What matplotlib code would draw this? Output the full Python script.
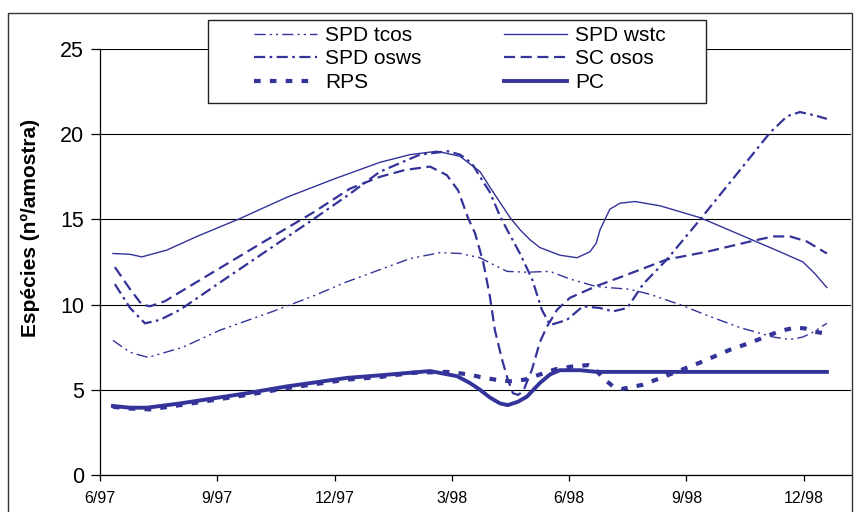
import matplotlib
matplotlib.use("Agg")
import matplotlib.pyplot as plt
from matplotlib.patches import Rectangle

plt.rcParams['font.family'] = ['Liberation Sans', 'DejaVu Sans']

# months counted from 6/97
tick_pos = [0, 3, 6, 9, 12, 15, 18]
tick_labels = ['6/97', '9/97', '12/97', '3/98', '6/98', '9/98', '12/98']

tcos_x = [0.33, 0.77, 1.23, 2.12, 3.07, 4.42, 5.45, 6.27, 7.16, 7.93, 8.70, 9.21, 9.72, 10.10,
          10.41, 10.92, 11.51, 12.02, 12.71, 13.55, 14.07, 14.83, 15.60, 16.37, 17.21, 17.65,
          17.98, 18.21, 18.59]
tcos_y = [7.9, 7.2, 6.9, 7.5, 8.5, 9.6, 10.5, 11.3, 12.05, 12.7, 13.05, 13.0, 12.75, 12.3,
          11.95, 11.9, 11.95, 11.5, 11.05, 10.9, 10.6, 10.0, 9.3, 8.65, 8.1, 7.95,
          8.1, 8.35, 8.9]

wstc_x = [0.33, 0.77, 1.07, 1.71, 2.48, 3.58, 4.78, 5.96, 7.16, 7.93, 8.62, 9.21, 9.72, 9.97,
          10.23, 10.49, 10.74, 11.00, 11.25, 11.76, 12.20, 12.53, 12.69, 12.79, 13.04, 13.30,
          13.68, 14.32, 15.35, 16.37, 17.39, 17.98, 18.29, 18.59]
wstc_y = [13.0, 12.95, 12.8, 13.2, 14.0, 15.05, 16.3, 17.35, 18.35, 18.8, 19.0, 18.7, 17.8, 16.9,
          16.0, 15.1, 14.4, 13.8, 13.35, 12.9, 12.75, 13.1, 13.6, 14.4, 15.6, 15.95,
          16.05, 15.8, 15.1, 14.1, 13.1, 12.5, 11.8, 11.0]

osws_x = [0.38, 0.77, 1.15, 1.53, 2.05, 3.07, 4.42, 5.45, 6.39, 7.16, 7.67, 8.18, 8.90, 9.21,
          9.51, 9.72, 9.97, 10.23, 10.41, 10.74, 11.05, 11.30, 11.51, 11.94, 12.35, 12.79,
          13.12, 13.48, 13.63, 13.89, 14.50, 15.35, 16.37, 17.14, 17.57, 17.90, 18.29, 18.59]
osws_y = [11.2, 9.8, 8.9, 9.1, 9.7, 11.3, 13.4, 15.0, 16.5, 17.8, 18.3, 18.8, 19.0, 18.8,
          18.3, 17.5, 16.6, 15.2, 14.4, 13.0, 11.5, 9.7, 8.8, 9.1, 9.9, 9.8,
          9.6, 9.8, 10.3, 11.2, 12.65, 15.0, 17.9, 20.1, 21.05, 21.3, 21.1, 20.9]

osos_x = [0.38, 0.77, 1.07, 1.28, 1.66, 2.89, 4.27, 5.45, 6.39, 7.16, 7.80, 8.44, 8.87, 9.16,
          9.41, 9.59, 9.80, 9.97, 10.10, 10.28, 10.43, 10.56, 10.69, 10.82, 11.05, 11.25,
          11.43, 11.69, 12.02, 12.71, 13.30, 14.50, 15.52, 16.62, 17.21, 17.65, 18.08, 18.59]
osos_y = [12.2, 10.9, 10.0, 9.9, 10.2, 11.9, 13.8, 15.4, 16.8, 17.5, 17.9, 18.1, 17.6, 16.7,
          15.1, 14.2, 12.5, 10.5, 8.5, 6.8, 5.6, 4.8, 4.7, 4.9, 6.2, 7.8,
          8.7, 9.7, 10.4, 11.1, 11.6, 12.65, 13.1, 13.7, 14.0, 14.0, 13.7, 13.0]

rps_x = [0.33, 0.77, 1.28, 2.05, 3.76, 4.78, 6.32, 7.16, 8.01, 8.87, 9.46, 9.72, 10.10, 10.49,
         10.87, 11.25, 11.64, 12.02, 12.48, 12.61, 12.86, 13.12, 13.35, 13.89, 14.40, 15.35,
         16.11, 16.62, 17.39, 17.77, 18.03, 18.29, 18.59]
rps_y = [4.0, 3.9, 3.85, 4.1, 4.7, 5.1, 5.6, 5.75, 6.0, 6.05, 5.9, 5.75, 5.6, 5.5,
         5.6, 5.9, 6.2, 6.35, 6.45, 6.35, 5.7, 5.2, 5.05, 5.3, 5.75, 6.6,
         7.35, 7.75, 8.45, 8.65, 8.6, 8.4, 8.3]

pc_x = [0.33, 0.77, 1.20, 2.05, 3.76, 4.78, 6.32, 7.16, 8.44, 9.13, 9.46, 9.72, 9.97, 10.23,
        10.43, 10.69, 10.92, 11.25, 11.51, 11.76, 12.28, 12.71, 18.59]
pc_y = [4.05, 3.95, 3.95, 4.2, 4.8, 5.2, 5.7, 5.85, 6.1, 5.8, 5.4, 5.0, 4.55, 4.2,
        4.1, 4.3, 4.6, 5.4, 5.9, 6.15, 6.15, 6.05, 6.05]

blue = '#333399'

fig = plt.figure(figsize=(8.64, 5.12), dpi=100, facecolor='white')
ax = fig.add_axes([100 / 864, 1 - 475 / 512, 751 / 864, 426 / 512])

l_tcos, = ax.plot(tcos_x, tcos_y, color=blue, lw=1.0, ls=(0, (8, 3, 1.5, 3, 1.5, 3)), label='SPD tcos')
l_wstc, = ax.plot(wstc_x, wstc_y, color=blue, lw=1.0, ls='-', label='SPD wstc')
l_osws, = ax.plot(osws_x, osws_y, color=blue, lw=1.6, ls=(0, (5, 2, 1.2, 2)), label='SPD osws')
l_osos, = ax.plot(osos_x, osos_y, color=blue, lw=1.6, ls=(0, (5, 2.5)), label='SC osos')
l_rps, = ax.plot(rps_x, rps_y, color=blue, lw=3.0, ls=(0, (1.6, 2.2)), label='RPS')
l_pc, = ax.plot(pc_x, pc_y, color=blue, lw=2.8, ls='-', label='PC')

ax.set_xlim(0, 751 / 39.1)
ax.set_ylim(0, 25)
ax.set_yticks([0, 5, 10, 15, 20, 25])
ax.set_xticks(tick_pos)
ax.set_xticklabels(tick_labels)
ax.yaxis.grid(True, color='black', lw=0.8)
ax.set_axisbelow(True)
for s in ['top', 'right']:
    ax.spines[s].set_visible(False)
ax.spines['left'].set_linewidth(0.9)
ax.spines['bottom'].set_linewidth(0.9)
ax.tick_params(axis='y', direction='out', length=6.5, width=0.9, pad=5, labelsize=15.5)
ax.tick_params(axis='x', direction='out', length=4.3, width=0.9, pad=7, labelsize=11.5)

ax.set_ylabel('Espécies (nº/amostra)', fontsize=15, fontweight='bold', va='center', ha='center')
ax.yaxis.set_label_coords(-70 / 751, (475 - 228) / 426)

# legend box and chart border
fig.patches.append(Rectangle((208 / 864, 1 - 103 / 512), 498 / 864, 83 / 512,
                             transform=fig.transFigure, facecolor='white', edgecolor='#222222',
                             lw=1.0, zorder=5))
fig.patches.append(Rectangle((8 / 864, -0.1), 844 / 864, 1.1 - 13 / 512,
                             transform=fig.transFigure, facecolor='none', edgecolor='#333333',
                             lw=1.0))

leg_kw = dict(loc='center left', frameon=False, fontsize=15, borderpad=0, borderaxespad=0,
              handlelength=3.0, handletextpad=0.4, labelspacing=0.22)
leg1 = fig.legend(handles=[l_tcos, l_osws, l_rps], bbox_to_anchor=(254 / 864, 1 - 59 / 512), **leg_kw)
leg2 = fig.legend(handles=[l_wstc, l_osos, l_pc], bbox_to_anchor=(504 / 864, 1 - 59 / 512), **leg_kw)
leg1.set_zorder(6)
leg2.set_zorder(6)

fig.savefig('out.png', dpi=100, facecolor='white')
